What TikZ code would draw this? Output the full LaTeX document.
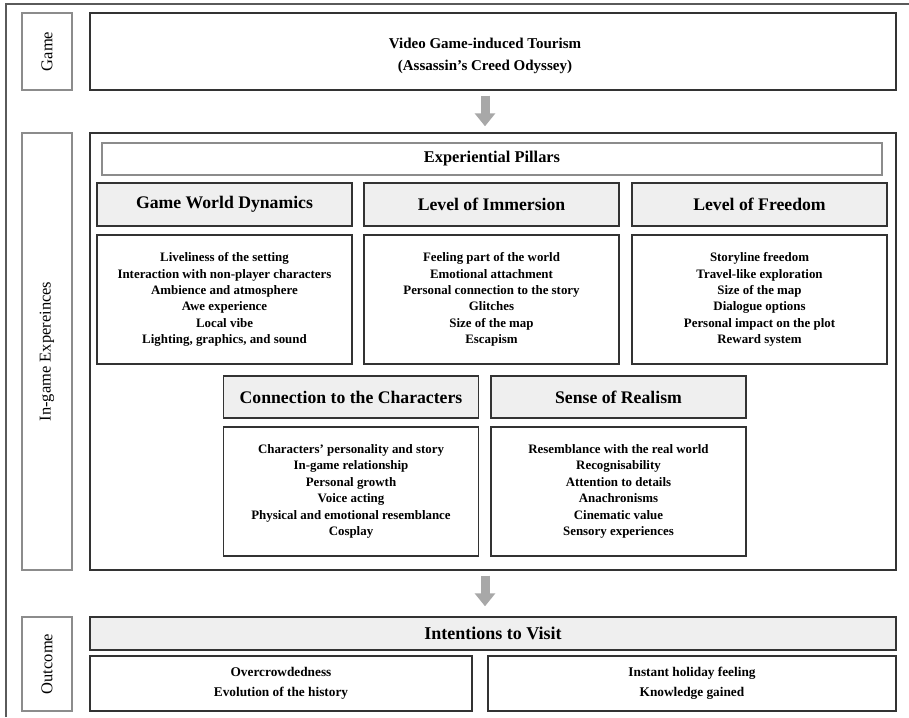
\documentclass[tikz,border=0pt]{standalone}
\usepackage{fontspec}
\setmainfont{Liberation Serif}
\usetikzlibrary{arrows.meta}

\definecolor{frame_gray}{HTML}{5A5A5A}
\definecolor{label_gray}{HTML}{8C8C8C}
\definecolor{head_fill}{HTML}{EFEFEF}
\definecolor{arrow_gray}{HTML}{A8A8A8}

\tikzset{
  sidelabel/.style={draw=label_gray, line width=1.2pt, inner sep=0pt, rotate=90,
    minimum height=50pt, font=\fontsize{16.5}{18}\selectfont},
  mainbox/.style={draw=black!80, line width=1.4pt, inner sep=0pt, align=center},
  headbox/.style={mainbox, fill=head_fill, minimum width=255pt, minimum height=43pt,
    font=\fontsize{17.7}{20}\selectfont\bfseries},
  listbox/.style={mainbox, minimum width=255pt, minimum height=129pt,
    font=\fontsize{12.9}{16.4}\selectfont\bfseries},
  outbox/.style={mainbox, minimum height=55pt, font=\fontsize{13.3}{19.5}\selectfont\bfseries},
  bigarrow/.style={arrow_gray, line width=9pt, -{Triangle[width=20pt,length=13pt]}}
}

\begin{document}
\begin{tikzpicture}[x=1pt, y=-1pt]
\useasboundingbox (0,0) rectangle (909,717);

% outer frame
\draw[frame_gray, line width=1.5pt] (6,717) -- (6,4) -- (909,4);

% game
\node[sidelabel, minimum width=77pt] (gamelab) at (47,51.5) {Game};
\node[mainbox, minimum width=806pt, minimum height=77pt] (game) at (493,51.5) {};
\node[align=center, inner sep=0pt, font=\fontsize{15}{22}\selectfont\bfseries] (gametitle)
  at (485,56) {Video Game-induced Tourism\\(Assassin's Creed Odyssey)};

% in-game experiences
\node[sidelabel, minimum width=437pt] (inlab) at (47,351.5) {In-game Expereinces};
\node[mainbox, minimum width=806pt, minimum height=437pt] (ingame) at (493,351.5) {};
\node[draw=label_gray, line width=1.2pt, minimum width=780pt, minimum height=32pt,
  inner sep=0pt, font=\fontsize{16.4}{18}\selectfont\bfseries] (pillars) at (492,159)
  {Experiential Pillars};

\node[headbox] (dynhead) at (224.5,204.5) {Game World Dynamics};
\node[headbox] (immhead) at (491.5,204.5) {Level of Immersion};
\node[headbox] (freehead) at (759.5,204.5) {Level of Freedom};

\node[listbox] (dynlist) at (224.5,299.5) {Liveliness of the setting\\Interaction with non-player characters\\Ambience and atmosphere\\Awe experience\\Local vibe\\Lighting, graphics, and sound};
\node[listbox] (immlist) at (491.5,299.5) {Feeling part of the world\\Emotional attachment\\Personal connection to the story\\Glitches\\Size of the map\\Escapism};
\node[listbox] (freelist) at (759.5,299.5) {Storyline freedom\\Travel-like exploration\\Size of the map\\Dialogue options\\Personal impact on the plot\\Reward system};

\node[headbox, minimum height=42pt] (charhead) at (351,397) {Connection to the Characters};
\node[headbox, minimum height=42pt] (realhead) at (618.5,397) {Sense of Realism};

\node[listbox] (charlist) at (351,491.5) {Characters' personality and story\\In-game relationship\\Personal growth\\Voice acting\\Physical and emotional resemblance\\Cosplay};
\node[listbox] (reallist) at (618.5,491.5) {Resemblance with the real world\\Recognisability\\Attention to details\\Anachronisms\\Cinematic value\\Sensory experiences};

% outcome
\node[sidelabel, minimum width=94pt] (outlab) at (47,664) {Outcome};
\node[mainbox, fill=head_fill, minimum width=806pt, minimum height=33pt,
  font=\fontsize{18}{20}\selectfont\bfseries] (intent) at (493,633.5) {Intentions to Visit};
\node[outbox, minimum width=382pt] (outleft) at (281,683.5)
  {Overcrowdedness\\Evolution of the history};
\node[outbox, minimum width=408pt] (outright) at (692,683.5)
  {Instant holiday feeling\\Knowledge gained};

% arrows
\draw[bigarrow] ([xshift=-8pt, yshift=-5pt]game.south) -- ([xshift=-8pt, yshift=6pt]ingame.north);
\draw[bigarrow] ([xshift=-8pt, yshift=-5pt]ingame.south) -- ([xshift=-8pt, yshift=10pt]intent.north);

\end{tikzpicture}
\end{document}
